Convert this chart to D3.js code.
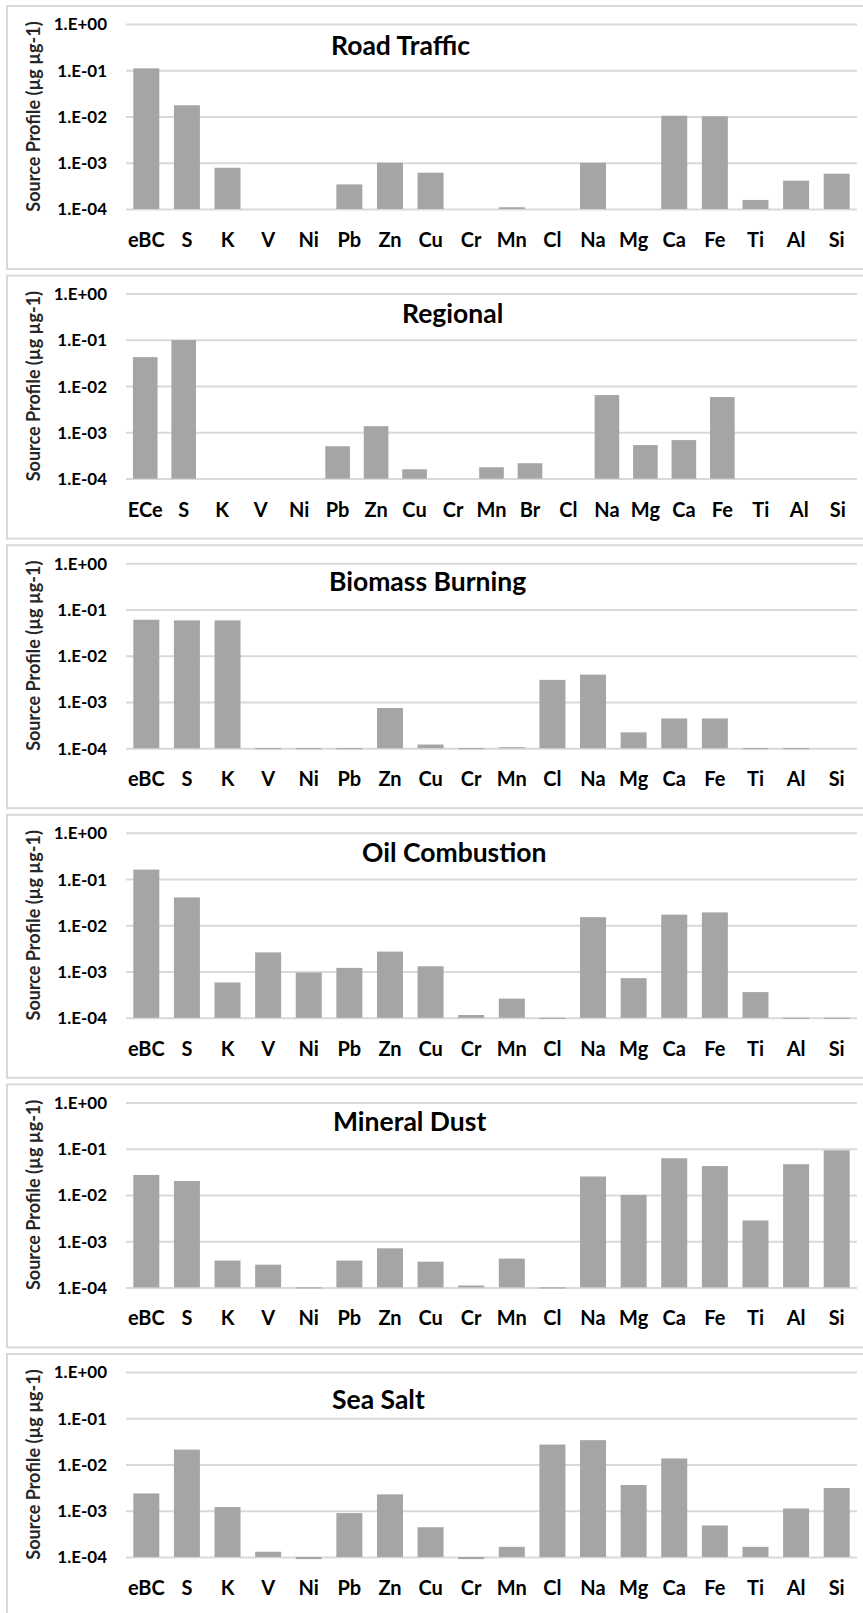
<!DOCTYPE html>
<html>
<head>
<meta charset="utf-8">
<script src="https://cdn.jsdelivr.net/npm/d3@7"></script>
<style>
  body { margin: 0; background: #ffffff; }
  svg { display: block; }
</style>
</head>
<body>
<svg id="chart" width="863" height="1613"></svg>
<script>
// Element categories (the Regional profile carries ECe and Br)
const elements = ["eBC","S","K","V","Ni","Pb","Zn","Cu","Cr","Mn","Cl","Na","Mg","Ca","Fe","Ti","Al","Si"];
const elementsRegional = ["ECe","S","K","V","Ni","Pb","Zn","Cu","Cr","Mn","Br","Cl","Na","Mg","Ca","Fe","Ti","Al","Si"];

// Log-axis ticks
const tickValues = [1, 1e-1, 1e-2, 1e-3, 1e-4];
const tickLabels = ["1.E+00","1.E-01","1.E-02","1.E-03","1.E-04"];

// Source profiles (µg/µg); null = not reported
const roadTraffic   = [0.110, 0.0175, 7.8e-4, null, null, 3.4e-4, 1.0e-3, 6.1e-4, null, 1.09e-4, null, 1.0e-3, null, 0.0104, 0.0101, 1.57e-4, 4.1e-4, 5.8e-4];
const regional      = [0.0423, 0.099, null, null, null, 5.0e-4, 1.36e-3, 1.59e-4, null, 1.76e-4, 2.15e-4, null, 6.4e-3, 5.3e-4, 6.8e-4, 5.8e-3, null, null, null];
const biomassBurning= [0.060, 0.058, 0.058, 9.5e-5, 9.5e-5, 9.5e-5, 7.4e-4, 1.2e-4, 9.5e-5, 1.05e-4, 3.0e-3, 3.9e-3, 2.2e-4, 4.4e-4, 4.4e-4, 9.5e-5, 9.5e-5, null];
const oilCombustion = [0.160, 0.040, 5.8e-4, 2.6e-3, 9.5e-4, 1.2e-3, 2.7e-3, 1.3e-3, 1.15e-4, 2.6e-4, 9.5e-5, 0.015, 7.2e-4, 0.017, 0.019, 3.6e-4, 9.5e-5, 9.5e-5];
const mineralDust   = [0.027, 0.020, 3.8e-4, 3.1e-4, 9.5e-5, 3.8e-4, 7.0e-4, 3.6e-4, 1.1e-4, 4.2e-4, 9.5e-5, 0.025, 0.010, 0.062, 0.042, 2.8e-3, 0.046, 0.092];
const seaSalt       = [2.37e-3, 0.021, 1.2e-3, 1.3e-4, 9.0e-5, 8.9e-4, 2.26e-3, 4.4e-4, 9.0e-5, 1.66e-4, 0.027, 0.0336, 3.6e-3, 0.0135, 4.8e-4, 1.66e-4, 1.12e-3, 3.1e-3];

const sourceNames = ["Road Traffic","Regional","Biomass Burning","Oil Combustion","Mineral Dust","Sea Salt"];
const sourceValues = [roadTraffic, regional, biomassBurning, oilCombustion, mineralDust, seaSalt];
const sourceCategories = [elements, elementsRegional, elements, elements, elements, elements];

// Title placement inside each panel: [x, baseline offset from panel top]
const titlePlacement = [[331,49],[402,47],[329,46],[362,47],[333,47],[332,55]];

const svg = d3.select("#chart");
const font = "Lato, 'Open Sans', sans-serif";
const panelPitch = 269.6, panelTop0 = 6, panelHeight = 263;
const plotLeft = 126, plotRight = 857, plotTopOff = 18, plotBottomOff = 203;

sourceNames.forEach((name, i) => {
  const top = panelTop0 + i * panelPitch;
  const g = svg.append("g");

  // panel frame
  g.append("rect")
    .attr("x", 7).attr("y", top)
    .attr("width", 870).attr("height", panelHeight)
    .attr("fill", "#ffffff").attr("stroke", "#d9d9d9").attr("stroke-width", 2);

  const cats = sourceCategories[i];
  const vals = sourceValues[i];
  const data = cats.map((c, k) => ({ cat: c, v: vals[k] }));

  const x = d3.scaleBand().domain(cats)
    .range([plotLeft, plotRight]).paddingInner(0.36).paddingOuter(0.18);
  const y = d3.scaleLog().domain([1e-4, 1])
    .range([top + plotBottomOff, top + plotTopOff]);

  // gridlines + tick labels
  const yAxis = d3.axisLeft(y).tickValues(tickValues)
    .tickSize(-(plotRight - plotLeft))
    .tickFormat((d, k) => tickLabels[k]);
  const ga = g.append("g").attr("transform", `translate(${plotLeft},0)`).call(yAxis);
  ga.select(".domain").remove();
  ga.selectAll(".tick line").attr("stroke", "#d9d9d9").attr("stroke-width", 2);
  ga.selectAll(".tick text")
    .attr("x", -19).attr("dy", "0.35em")
    .attr("fill", "#000").style("font-family", font)
    .style("font-size", "17px").style("font-weight", "bold");

  // bars grow from the 1.E-04 axis
  const base = y(1e-4);
  g.append("g").selectAll("rect")
    .data(data.filter(d => d.v != null))
    .join("rect")
    .attr("x", d => x(d.cat))
    .attr("width", x.bandwidth())
    .attr("y", d => Math.min(y(d.v), base))
    .attr("height", d => Math.abs(base - y(d.v)))
    .attr("fill", "#a5a5a5");

  // category labels
  const xAxis = d3.axisBottom(x).tickSize(0).tickPadding(0);
  const gx = g.append("g").attr("transform", `translate(0,${top + 241})`).call(xAxis);
  gx.select(".domain").remove();
  gx.selectAll(".tick text")
    .attr("y", 0).attr("dy", 0)
    .attr("fill", "#000").style("font-family", font)
    .style("font-size", "20px").style("font-weight", "bold");

  // y-axis title
  g.append("text")
    .attr("transform", `translate(40,${top + (plotTopOff + plotBottomOff) / 2}) rotate(-90)`)
    .attr("text-anchor", "middle")
    .attr("fill", "#262626").style("font-family", font)
    .style("font-size", "18px").style("font-weight", "bold")
    .text("Source Profile (µg µg-1)");

  // panel title
  g.append("text")
    .attr("x", titlePlacement[i][0]).attr("y", top + titlePlacement[i][1])
    .attr("fill", "#000").style("font-family", font)
    .style("font-size", "26.5px").style("font-weight", "bold")
    .text(name);
});
</script>
</body>
</html>
